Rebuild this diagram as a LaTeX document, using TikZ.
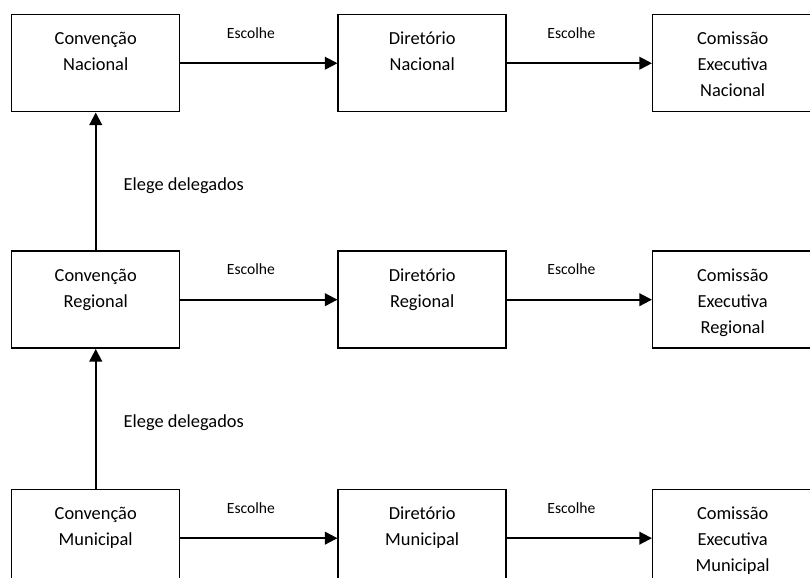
\documentclass[tikz,border=0pt]{standalone}
\usepackage{fontspec}
\setmainfont{Carlito}
\usepackage{tikz}
\usetikzlibrary{arrows.meta, positioning}

\newcommand{\caixa}[2]{\parbox[c][72.75pt][t]{#1}{\centering\vspace*{8.85pt}\strut #2}}

\begin{document}
\begin{tikzpicture}[
    node distance=103.5pt and 117.75pt,
    box/.style={draw, line width=1.1pt, inner sep=0pt, font=\fontsize{13.8}{19.5}\selectfont},
    seta/.style={-{Triangle[length=9.5pt, width=9.5pt]}, line width=1.5pt},
    escolha/.style={above=18pt, xshift=-6pt, inner sep=0pt, font=\fontsize{11.7}{14}\selectfont},
    eleicao/.style={anchor=west, xshift=20.25pt, yshift=-3pt, inner sep=0pt, font=\fontsize{13.8}{16}\selectfont}
]
    \useasboundingbox (0,0) rectangle (607.5pt,-433.5pt);

    \node[box, anchor=north west] (convnac) at (8.25pt,-10.5pt) {\caixa{126pt}{Convenção\\Nacional}};
    \node[box, right=of convnac] (dirnac) {\caixa{126pt}{Diretório\\Nacional}};
    \node[box, right=108.75pt of dirnac] (comnac) {\caixa{120pt}{Comissão\\Executiva\\Nacional}};

    \node[box, below=of convnac] (convreg) {\caixa{126pt}{Convenção\\Regional}};
    \node[box, right=of convreg] (dirreg) {\caixa{126pt}{Diretório\\Regional}};
    \node[box, right=108.75pt of dirreg] (comreg) {\caixa{120pt}{Comissão\\Executiva\\Regional}};

    \node[box, below=105pt of convreg] (convmun) {\caixa{126pt}{Convenção\\Municipal}};
    \node[box, right=of convmun] (dirmun) {\caixa{126pt}{Diretório\\Municipal}};
    \node[box, right=108.75pt of dirmun] (commun) {\caixa{120pt}{Comissão\\Executiva\\Municipal}};

    \draw[seta] (convnac) -- node[escolha] {Escolhe} (dirnac);
    \draw[seta] (dirnac) -- node[escolha] {Escolhe} (comnac);
    \draw[seta] (convreg) -- node[escolha] {Escolhe} (dirreg);
    \draw[seta] (dirreg) -- node[escolha] {Escolhe} (comreg);
    \draw[seta] (convmun) -- node[escolha] {Escolhe} (dirmun);
    \draw[seta] (dirmun) -- node[escolha] {Escolhe} (commun);

    \draw[seta] (convreg) -- node[eleicao] {Elege delegados} (convnac);
    \draw[seta] (convmun) -- node[eleicao] {Elege delegados} (convreg);
\end{tikzpicture}
\end{document}
